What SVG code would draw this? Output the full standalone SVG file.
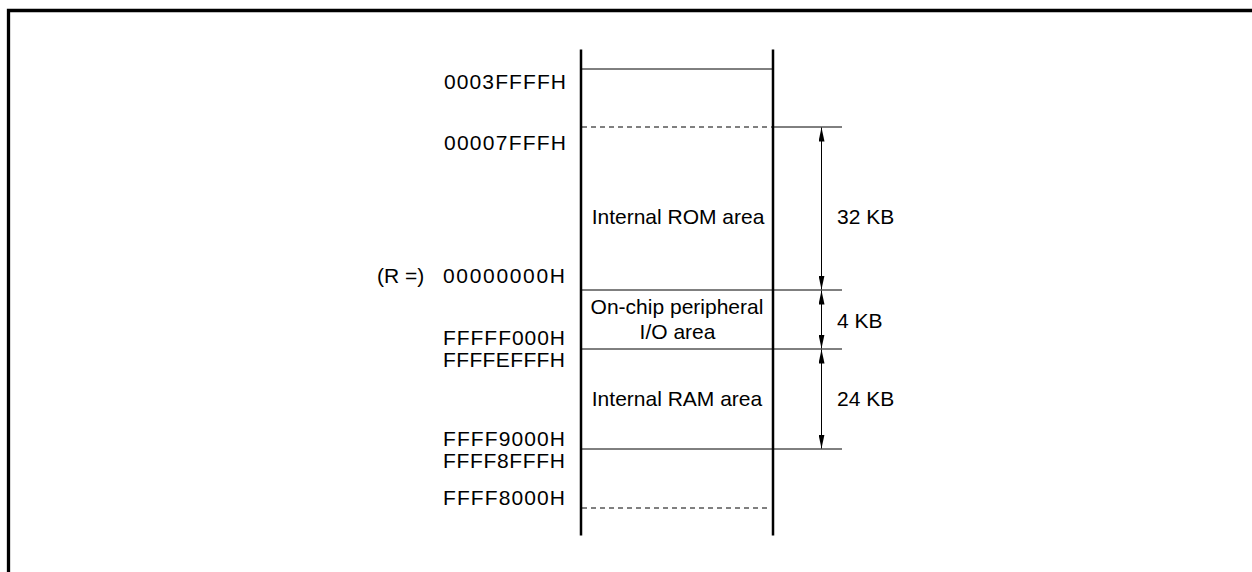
<svg xmlns="http://www.w3.org/2000/svg" width="1252" height="572" viewBox="0 0 1252 572">
<style>
text{font-family:"Liberation Sans",Arial,sans-serif;font-size:21px;fill:#000}
.addr{text-anchor:end}
.mid{text-anchor:middle}
.thin{stroke:#000;stroke-width:1;fill:none}
.dash{stroke:#000;stroke-width:1;stroke-dasharray:5 4;fill:none}
.col{stroke:#000;stroke-width:2.5;fill:none}
.dim{stroke:#000;stroke-width:1;fill:none;marker-start:url(#ah);marker-end:url(#ah)}
</style>
<defs>
<marker id="ah" viewBox="0 0 14 6" refX="14" refY="3" markerWidth="14" markerHeight="6" markerUnits="userSpaceOnUse" orient="auto-start-reverse">
<path d="M0,0 L14,3 L0,6 Z" fill="#000"/>
</marker>
</defs>
<rect width="1252" height="572" fill="#fff"/>
<path d="M8.5,580 V10.5 H1260" stroke="#000" stroke-width="3.3" fill="none"/>
<g id="memory-column">
<line class="col" x1="581" y1="49.5" x2="581" y2="535.5"/>
<line class="col" x1="773" y1="49.5" x2="773" y2="535.5"/>
<line class="thin" x1="582" y1="69" x2="772" y2="69"/>
<line class="dash" x1="582" y1="127" x2="772" y2="127"/>
<line class="dash" x1="582" y1="508" x2="768" y2="508"/>
</g>
<g id="rom-area">
<text class="mid" x="678" y="224">Internal ROM area</text>
</g>
<g id="io-area">
<text class="mid" x="677" y="314">On-chip peripheral</text>
<text class="mid" x="677.5" y="339">I/O area</text>
</g>
<g id="ram-area">
<text class="mid" x="677" y="406">Internal RAM area</text>
</g>
<g id="addresses">
<text class="addr" x="566" y="89" textLength="122" lengthAdjust="spacing">0003FFFFH</text>
<text class="addr" x="566" y="150" textLength="122" lengthAdjust="spacing">00007FFFH</text>
<text x="377" y="283">(R =)</text>
<text class="addr" x="565" y="283" textLength="122" lengthAdjust="spacing">00000000H</text>
<text class="addr" x="565" y="345" textLength="122" lengthAdjust="spacing">FFFFF000H</text>
<text class="addr" x="565" y="367" textLength="122" lengthAdjust="spacing">FFFFEFFFH</text>
<text class="addr" x="565" y="446" textLength="122" lengthAdjust="spacing">FFFF9000H</text>
<text class="addr" x="565" y="468" textLength="122" lengthAdjust="spacing">FFFF8FFFH</text>
<text class="addr" x="565" y="505" textLength="122" lengthAdjust="spacing">FFFF8000H</text>
</g>
<g id="connectors">
<line class="thin" x1="773" y1="127" x2="842" y2="127"/>
<line class="thin" x1="582" y1="290" x2="842" y2="290"/>
<line class="thin" x1="582" y1="349" x2="842" y2="349"/>
<line class="thin" x1="582" y1="449" x2="842" y2="449"/>
<line class="dim" x1="821.5" y1="127.5" x2="821.5" y2="289.5"/>
<line class="dim" x1="821.5" y1="290.5" x2="821.5" y2="348.5"/>
<line class="dim" x1="821.5" y1="349.5" x2="821.5" y2="448.5"/>
</g>
<g id="sizes">
<text x="837" y="224">32 KB</text>
<text x="837" y="328">4 KB</text>
<text x="837" y="406">24 KB</text>
</g>
</svg>
